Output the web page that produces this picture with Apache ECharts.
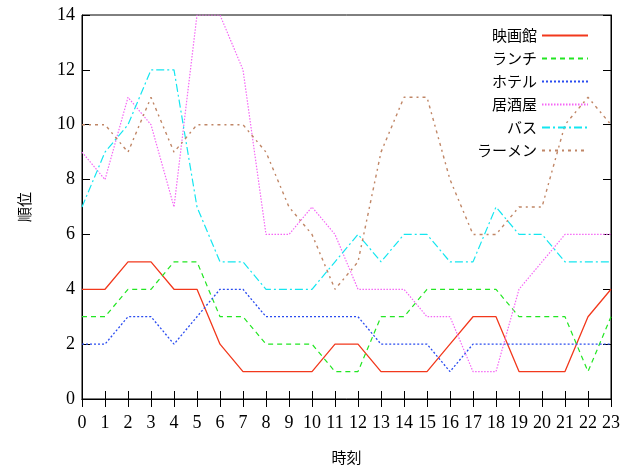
<!DOCTYPE html>
<html>
<head>
<meta charset="utf-8">
<script src="https://cdn.jsdelivr.net/npm/echarts@6/dist/echarts.min.js"></script>
<style>
  html, body { margin: 0; padding: 0; background: #fff; }
  #chart { width: 623px; height: 470px; }
</style>
</head>
<body>
<div id="chart"></div>
<script>
// Hourly ranking of six search keywords
const hours = ['0','1','2','3','4','5','6','7','8','9','10','11','12','13','14','15','16','17','18','19','20','21','22','23'];
const eigakan = [4, 4, 5, 5, 4, 4, 2, 1, 1, 1, 1, 2, 2, 1, 1, 1, 2, 3, 3, 1, 1, 1, 3, 4];
const lunch   = [3, 3, 4, 4, 5, 5, 3, 3, 2, 2, 2, 1, 1, 3, 3, 4, 4, 4, 4, 3, 3, 3, 1, 3];
const hotel   = [2, 2, 3, 3, 2, 3, 4, 4, 3, 3, 3, 3, 3, 2, 2, 2, 1, 2, 2, 2, 2, 2, 2, 2];
const izakaya = [9, 8, 11, 10, 7, 14, 14, 12, 6, 6, 7, 6, 4, 4, 4, 3, 3, 1, 1, 4, 5, 6, 6, 6];
const bus     = [7, 9, 10, 12, 12, 7, 5, 5, 4, 4, 4, 5, 6, 5, 6, 6, 5, 5, 7, 6, 6, 5, 5, 5];
const ramen   = [10, 10, 9, 11, 9, 10, 10, 10, 9, 7, 6, 4, 5, 9, 11, 11, 8, 6, 6, 7, 7, 10, 11, 10];
const yTicks = { min: 0, max: 14, step: 2 };

const serif = '"Liberation Serif", "Times New Roman", "DejaVu Serif", serif';
const jp = '"Noto Sans CJK JP", sans-serif';

const seriesDefs = [
  { name: '映画館', data: eigakan, color: '#f2381c', type: 'solid', width: 1.3 },
  { name: 'ランチ', data: lunch, color: '#22e622', type: [5, 4], width: 1.2 },
  { name: 'ホテル', data: hotel, color: '#2a4cf0', type: [2, 2], width: 1.3 },
  { name: '居酒屋', data: izakaya, color: '#f566f5', type: [1.5, 1.5], width: 1.2 },
  { name: 'バス', data: bus, color: '#14e6f0', type: [8, 3, 2, 3], width: 1.2 },
  { name: 'ラーメン', data: ramen, color: '#c08666', type: [3, 4, 2, 4], width: 1.4 }
];

const tickStyle = { show: true, inside: true, length: 8, lineStyle: { color: '#000', width: 1 } };

const chart = echarts.init(document.getElementById('chart'), null, { renderer: 'canvas' });
chart.setOption({
  animation: false,
  backgroundColor: '#fff',
  grid: { left: 82, right: 10, top: 15, bottom: 70, show: true, borderColor: '#000', borderWidth: 1, backgroundColor: 'transparent' },
  legend: {
    orient: 'vertical',
    right: 29,
    top: 23,
    align: 'right',
    itemWidth: 46,
    itemHeight: 16,
    itemGap: 8,
    itemStyle: { opacity: 0 },
    textStyle: { fontFamily: jp, fontSize: 15, color: '#000' },
    data: seriesDefs.map(s => s.name)
  },
  xAxis: [
    {
      type: 'category', data: hours, boundaryGap: false,
      name: '時刻', nameLocation: 'middle', nameGap: 51,
      nameTextStyle: { fontFamily: jp, fontSize: 15, color: '#000' },
      axisLine: { show: true, lineStyle: { color: '#000', width: 1 } },
      axisTick: Object.assign({ alignWithLabel: true, interval: 0 }, tickStyle),
      axisLabel: { interval: 0, margin: 15, fontFamily: serif, fontSize: 18, color: '#000' },
      splitLine: { show: false }
    },
    {
      type: 'category', data: hours, boundaryGap: false, position: 'top',
      axisLine: { show: true, lineStyle: { color: '#000', width: 1 } },
      axisTick: Object.assign({ alignWithLabel: true, interval: 0 }, tickStyle),
      axisLabel: { show: false },
      splitLine: { show: false }
    }
  ],
  yAxis: [
    {
      type: 'value', min: yTicks.min, max: yTicks.max, interval: yTicks.step,
      name: '順位', nameLocation: 'middle', nameGap: 50, nameRotate: 90,
      nameTextStyle: { fontFamily: jp, fontSize: 15, color: '#000' },
      axisLine: { show: true, lineStyle: { color: '#000', width: 1 } },
      axisTick: tickStyle,
      axisLabel: { margin: 7, fontFamily: serif, fontSize: 18, color: '#000' },
      splitLine: { show: false }
    },
    {
      type: 'value', min: yTicks.min, max: yTicks.max, interval: yTicks.step, position: 'right',
      axisLine: { show: true, lineStyle: { color: '#000', width: 1 } },
      axisTick: tickStyle,
      axisLabel: { show: false },
      splitLine: { show: false }
    }
  ],
  series: seriesDefs.map(s => ({
    name: s.name,
    type: 'line',
    data: s.data,
    symbol: 'none',
    color: s.color,
    lineStyle: { color: s.color, width: s.width, type: s.type },
    itemStyle: { color: s.color }
  }))
});
</script>
</body>
</html>
